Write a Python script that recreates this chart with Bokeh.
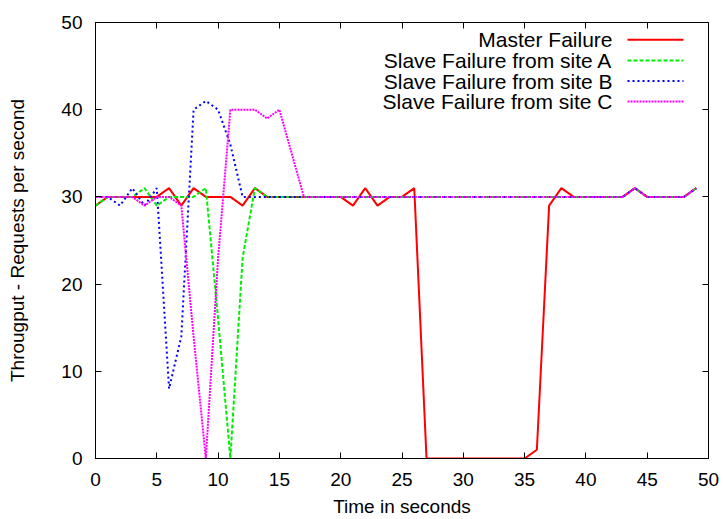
from bokeh.plotting import figure
from bokeh.models import (Range1d, LinearAxis, FixedTicker, Label, Arrow,
                          CustomLabelingPolicy)
from bokeh.embed import file_html
from bokeh.resources import INLINE

# ---------------- data ----------------
time_s = list(range(50))
master = [29, 30, 30, 30, 30, 30, 31, 29, 31, 30,
          30, 30, 29, 31, 30, 30, 30, 30, 30, 30,
          30, 29, 31, 29, 30, 30, 31, 0, 0, 0,
          0, 0, 0, 0, 0, 0, 1, 29, 31, 30,
          30, 30, 30, 30, 31, 30, 30, 30, 30, 31]
slave_a = [29, 30, 30, 30, 31, 29, 30, 30, 30, 31,
           16, 0, 23, 31, 30, 30, 30, 30, 30, 30,
           30, 30, 30, 30, 30, 30, 30, 30, 30, 30,
           30, 30, 30, 30, 30, 30, 30, 30, 30, 30,
           30, 30, 30, 30, 31, 30, 30, 30, 30, 31]
slave_b = [30, 30, 29, 31, 29, 31, 8, 14, 40, 41,
           40, 36, 30, 30, 30, 30, 30, 30, 30, 30,
           30, 30, 30, 30, 30, 30, 30, 30, 30, 30,
           30, 30, 30, 30, 30, 30, 30, 30, 30, 30,
           30, 30, 30, 30, 31, 30, 30, 30, 30, 31]
slave_c = [30, 30, 30, 30, 29, 30, 30, 29, 14, 0,
           23, 40, 40, 40, 39, 40, 35, 30, 30, 30,
           30, 30, 30, 30, 30, 30, 30, 30, 30, 30,
           30, 30, 30, 30, 30, 30, 30, 30, 30, 30,
           30, 30, 30, 30, 31, 30, 30, 30, 30, 31]
series_names = ["Master Failure", "Slave Failure from site A",
                "Slave Failure from site B", "Slave Failure from site C"]
x_ticks = [0, 5, 10, 15, 20, 25, 30, 35, 40, 45, 50]
y_ticks = [0, 10, 20, 30, 40, 50]
x_title = "Time in seconds"
y_title = "Througput - Requests per second"

# ---------------- styling ----------------
FONT = "Liberation Sans"
TICK_FS = "19px"
LEG_FS = "21px"
colors = ["#ff0000", "#00ee00", "#0000ff", "#ff00ff"]
dashes = ["solid", "4 2", "2 3", "2 1"]
widths = [2, 2, 2, 2]

W, H = 725, 519
B_LEFT, B_RIGHT, B_TOP, B_BOTTOM = 95, 17, 22, 61
FRAME_W = W - B_LEFT - B_RIGHT
FRAME_H = H - B_TOP - B_BOTTOM
X0, X1, Y0, Y1 = 0, 50, 0, 50


def px_to_x(px):
    return X0 + (px - B_LEFT) * (X1 - X0) / FRAME_W


def py_to_y(py):
    return Y1 - (py - B_TOP) * (Y1 - Y0) / FRAME_H


p = figure(width=W, height=H, output_backend="svg", toolbar_location=None,
           x_range=Range1d(X0, X1), y_range=Range1d(Y0, Y1),
           min_border_left=B_LEFT, min_border_right=B_RIGHT,
           min_border_top=B_TOP, min_border_bottom=B_BOTTOM,
           x_axis_label=x_title, y_axis_label=y_title)
p.xgrid.visible = False
p.ygrid.visible = False
p.outline_line_color = "black"
p.outline_line_width = 1
p.background_fill_color = "white"
p.border_fill_color = "white"


def style_axis(ax, ticks):
    ax.ticker = FixedTicker(ticks=ticks)
    ax.major_tick_in = 6
    ax.major_tick_out = 0
    ax.minor_tick_line_color = None
    ax.major_tick_line_color = "black"
    ax.axis_line_color = "black"
    ax.major_label_text_font = FONT
    ax.major_label_text_font_size = TICK_FS
    ax.major_label_text_color = "black"
    ax.axis_label_text_font = FONT
    ax.axis_label_text_font_size = TICK_FS
    ax.axis_label_text_font_style = "normal"
    ax.axis_label_text_color = "black"


style_axis(p.xaxis[0], x_ticks)
style_axis(p.yaxis[0], y_ticks)
p.xaxis[0].major_label_standoff = 14
p.xaxis[0].axis_label_standoff = 7
p.yaxis[0].major_label_standoff = 13
p.yaxis[0].axis_label_standoff = 30

# mirror axes (ticks only, labels hidden by policy)
hide_all = CustomLabelingPolicy(code="""
for (const i of Array.from(indices)) indices.unset(i)
return indices
""")
top = LinearAxis()
right = LinearAxis()
style_axis(top, x_ticks)
style_axis(right, y_ticks)
for ax in (top, right):
    ax.major_label_policy = hide_all
    ax.major_label_standoff = 0
    ax.major_label_text_font_size = "0px"
p.add_layout(top, "above")
p.add_layout(right, "right")

for ys, c, d, w in zip([master, slave_a, slave_b, slave_c], colors, dashes, widths):
    p.line(time_s, ys, line_color=c, line_width=w, line_dash=d)

# gnuplot-style key: right-aligned text, sample line to its right
ROW_H = 20.6
for i, (name, c, d, w) in enumerate(zip(series_names, colors, dashes, widths)):
    py = 29 + ROW_H * i + ROW_H / 2.0
    yy = py_to_y(py)
    p.add_layout(Label(x=px_to_x(612), y=yy, text=name, text_align="right",
                       text_baseline="middle", text_font=FONT,
                       text_font_size=LEG_FS, text_color="black"))
    p.add_layout(Arrow(end=None, x_start=px_to_x(627), y_start=yy,
                       x_end=px_to_x(683), y_end=yy,
                       line_color=c, line_width=w, line_dash=d))

open("out.html", "w").write(file_html(p, INLINE))
